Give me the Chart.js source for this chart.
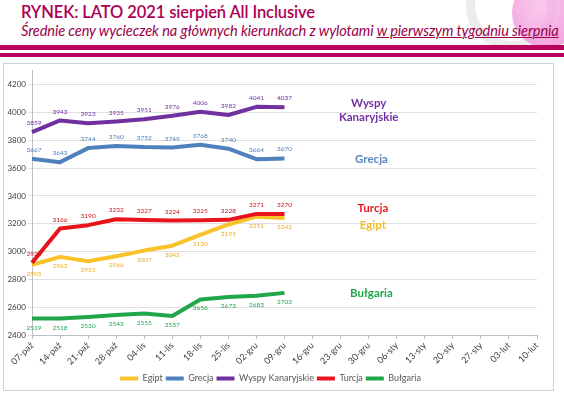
<!DOCTYPE html>
<html>
<head>
<meta charset="utf-8">
<script src="https://cdn.jsdelivr.net/npm/chart.js@4"></script>
<style>
  html, body { margin: 0; padding: 0; background: #fff; }
  body { width: 564px; height: 393px; position: relative; overflow: hidden; font-family: Lato, "Open Sans", sans-serif; }
  .logo { position: absolute; left: 512px; top: -22px; width: 70px; height: 70px; border-radius: 50%;
          background: radial-gradient(circle at 40% 40%, #f7b6e6, #ee8ad6 70%); opacity: 0.75; }
  .arc { position: absolute; left: 466px; top: -40px; width: 90px; height: 90px; border-radius: 50%;
         border: 9px solid #ececec; box-sizing: border-box; }
  .title { position: absolute; left: 21px; top: 2px; font-size: 16.5px; color: #ad0055; font-weight: 600; letter-spacing: -0.1px; }
  .sub { position: absolute; left: 21px; top: 22px; font-size: 14.6px; font-style: italic; color: #9b0049; white-space: nowrap; letter-spacing: -0.1px; }
  .sub u { text-decoration-thickness: 1px; }
  .bar { position: absolute; left: 0; width: 564px; background: #b8005c; }
  .box { position: absolute; left: 3px; top: 63px; width: 549px; height: 326px; border: 1px solid #d0d0d0; background: #fff; overflow: hidden; }
  .box canvas { display: block; }
</style>
</head>
<body>
<div class="arc"></div>
<div class="logo"></div>
<div class="title">RYNEK: LATO 2021 sierpień All Inclusive</div>
<div class="sub">Średnie ceny wycieczek na głównych kierunkach z wylotami <u>w pierwszym tygodniu sierpnia</u></div>
<div class="bar" style="top:45px;height:5px"></div>
<div class="bar" style="top:53px;height:4px"></div>
<div class="box"><canvas id="c" width="549" height="329"></canvas></div>
<script>
const weeks = ['07-paź', '14-paź', '21-paź', '28-paź', '04-lis', '11-lis', '18-lis', '25-lis', '02-gru', '09-gru',
  '16-gru', '23-gru', '30-gru', '06-sty', '13-sty', '20-sty', '27-sty', '03-lut', '10-lut'];

const egipt = [2905, 2962, 2931, 2966, 3007, 3042, 3120, 3195, 3251, 3242];
const grecja = [3667, 3643, 3744, 3760, 3752, 3749, 3768, 3740, 3664, 3670];
const wyspy = [3859, 3943, 3923, 3935, 3951, 3976, 4006, 3982, 4041, 4037];
const turcja = [2920, 3166, 3190, 3232, 3227, 3224, 3225, 3228, 3271, 3270];
const bulgaria = [2519, 2518, 2530, 2543, 2555, 2537, 2656, 2673, 2683, 2703];

const yTicks = [2400, 2600, 2800, 3000, 3200, 3400, 3600, 3800, 4000, 4200];

// name tags on the right side of the plot
const tags = [
  { lines: ['Wyspy', 'Kanaryjskie'], color: '#7030a0', at: 12.0, value: 4066 },
  { lines: ['Grecja'], color: '#5a86bd', at: 12.1, value: 3660 },
  { lines: ['Turcja'], color: '#e31b23', at: 12.15, value: 3311 },
  { lines: ['Egipt'], color: '#f4bd22', at: 12.15, value: 3192 },
  { lines: ['Bułgaria'], color: '#21a64b', at: 12.1, value: 2700 }
];

function series(label, data, color, textColor, pos) {
  return {
    label, data,
    borderColor: color,
    backgroundColor: color,
    borderWidth: 4,
    pointRadius: 0,
    tension: 0,
    borderJoinStyle: 'round',
    labelPos: pos,
    labelColor: textColor
  };
}

const pointLabels = {
  id: 'pointLabels',
  afterDatasetsDraw(chart) {
    const ctx = chart.ctx;
    ctx.save();
    ctx.font = '6.5px Lato, sans-serif';
    ctx.textAlign = 'center';
    ctx.textBaseline = 'middle';
    chart.data.datasets.forEach((ds, i) => {
      const meta = chart.getDatasetMeta(i);
      ctx.fillStyle = ds.labelColor;
      meta.data.forEach((pt, j) => {
        const dy = ds.labelPos === 'above' ? -9 : 9;
        ctx.fillText(String(ds.data[j]), pt.x + (j === 0 ? 2 : 0), pt.y + dy);
      });
    });
    ctx.restore();
  }
};

const sideTags = {
  id: 'sideTags',
  afterDraw(chart) {
    const ctx = chart.ctx;
    const x = chart.scales.x, y = chart.scales.y;
    ctx.save();
    ctx.font = 'bold 11.5px Lato, sans-serif';
    ctx.textAlign = 'center';
    ctx.textBaseline = 'middle';
    for (const t of tags) {
      ctx.fillStyle = t.color;
      const px = x.getPixelForValue(t.at);
      const py = y.getPixelForValue(t.value);
      t.lines.forEach((ln, k) => ctx.fillText(ln, px, py + k * 14));
    }
    ctx.restore();
  }
};

new Chart(document.getElementById('c'), {
  type: 'line',
  data: {
    labels: weeks,
    datasets: [
      series('Bułgaria', bulgaria, '#21a64b', '#21a64b', 'below'),
      series('Turcja', turcja, '#e8141b', '#d0141b', 'above'),
      series('Wyspy Kanaryjskie', wyspy, '#7030a0', '#7030a0', 'above'),
      series('Grecja', grecja, '#4f81bd', '#4f81bd', 'above'),
      series('Egipt', egipt, '#f9c22b', '#eeb01a', 'below')
    ]
  },
  options: {
    responsive: false,
    animation: false,
    layout: { padding: { left: 0, right: 16, top: 6, bottom: 0 } },
    plugins: {
      tooltip: { enabled: false },
      legend: {
        position: 'bottom',
        reverse: true,
        labels: {
          usePointStyle: true,
          pointStyle: 'line',
          pointStyleWidth: 18,
          font: { size: 9, family: 'Lato, sans-serif' },
          color: '#595959',
          padding: 3
        }
      }
    },
    scales: {
      x: {
        offset: false,
        grid: { drawOnChartArea: false, drawTicks: true, tickLength: 4, color: '#bfbfbf' },
        border: { color: '#bfbfbf' },
        ticks: { minRotation: 45, maxRotation: 45, autoSkip: false, color: '#404040',
                 font: { size: 9, family: 'Lato, sans-serif' }, padding: 1 },
        afterFit: s => { s.height = 36; }
      },
      y: {
        min: 2400,
        max: 4300,
        afterBuildTicks: s => { s.ticks = yTicks.map(v => ({ value: v })); },
        grid: { color: '#e0e0e0', tickLength: 4 },
        border: { color: '#bfbfbf' },
        ticks: { color: '#404040', font: { size: 8, family: 'Lato, sans-serif' }, padding: 2,
                 callback: v => String(v) },
        afterFit: s => { s.width = 28; }
      }
    }
  },
  plugins: [pointLabels, sideTags]
});
</script>
</body>
</html>
